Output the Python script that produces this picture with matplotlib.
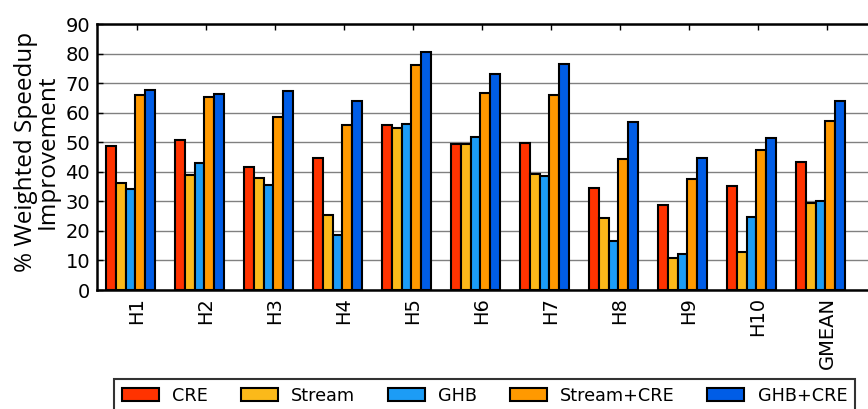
import numpy as np
import matplotlib
matplotlib.use("Agg")
import matplotlib.pyplot as plt

# Benchmark mixes and per-scheme weighted speedup improvement (%)
categories = ["H1", "H2", "H3", "H4", "H5", "H6", "H7", "H8", "H9", "H10", "GMEAN"]
series_names = ["CRE", "Stream", "GHB", "Stream+CRE", "GHB+CRE"]
cre = [48.8, 50.9, 41.6, 44.7, 55.8, 49.3, 49.9, 34.6, 28.9, 35.2, 43.2]
stream = [36.2, 39.0, 37.9, 25.3, 54.8, 49.4, 39.4, 24.3, 10.9, 13.0, 29.4]
ghb = [34.3, 43.1, 35.6, 18.7, 56.1, 51.8, 38.7, 16.7, 12.2, 24.8, 30.1]
stream_cre = [66.1, 65.2, 58.4, 55.8, 76.0, 66.7, 66.1, 44.4, 37.6, 47.4, 57.2]
ghb_cre = [67.6, 66.2, 67.3, 63.9, 80.6, 73.2, 76.3, 56.9, 44.6, 51.5, 64.1]
yticks = [0, 10, 20, 30, 40, 50, 60, 70, 80, 90]

colors = ["#ff3300", "#fbb91a", "#1c9cf6", "#ff9900", "#005de6"]
series = [cre, stream, ghb, stream_cre, ghb_cre]

W, H = 868, 409
fig = plt.figure(figsize=(W / 100, H / 100), dpi=100)
xmin, xmax = -0.13, 11.3
ax = fig.add_axes([97 / W, (H - 290) / H, (xmax - xmin) * 69 / W, 266 / H])

ind = np.arange(len(categories))
width = 0.142
handles = []
for k, (vals, col, name) in enumerate(zip(series, colors, series_names)):
    h = ax.bar(ind + k * width, vals, width, align="edge", color=col,
               edgecolor="black", linewidth=1.5, label=name, zorder=3)
    handles.append(h)

ax.set_xlim(xmin, xmax)
ax.set_ylim(0, 90)
ax.set_yticks(yticks)
ax.set_xticks(ind + 0.45)
ax.set_xticklabels(categories, rotation=90, fontsize=14)
ax.tick_params(axis="y", labelsize=14, pad=5)
ax.tick_params(direction="in", top=True, right=True, length=4.5, width=1)
ax.tick_params(axis="x", pad=5)
ax.yaxis.grid(True, color="#808080", linewidth=1.0, zorder=0)
ax.set_axisbelow(True)
for s in ax.spines.values():
    s.set_linewidth(1.8)

ax.set_ylabel("% Weighted Speedup\nImprovement", fontsize=17.5,
              family=["Open Sans", "DejaVu Sans"], linespacing=0.9)
ax.yaxis.set_label_coords(-0.047, 0.52)

leg = fig.legend(handles=handles, labels=series_names, loc="upper left",
                 bbox_to_anchor=(114 / W, 1 - 379 / H), ncol=5,
                 fontsize=12.7, handlelength=2.1, handleheight=0.75,
                 handletextpad=0.75, columnspacing=1.85, borderpad=0.45,
                 borderaxespad=0.0, fancybox=False, frameon=True)
leg.get_frame().set_edgecolor("black")
leg.get_frame().set_linewidth(1.5)

fig.savefig("out.png", dpi=100)
